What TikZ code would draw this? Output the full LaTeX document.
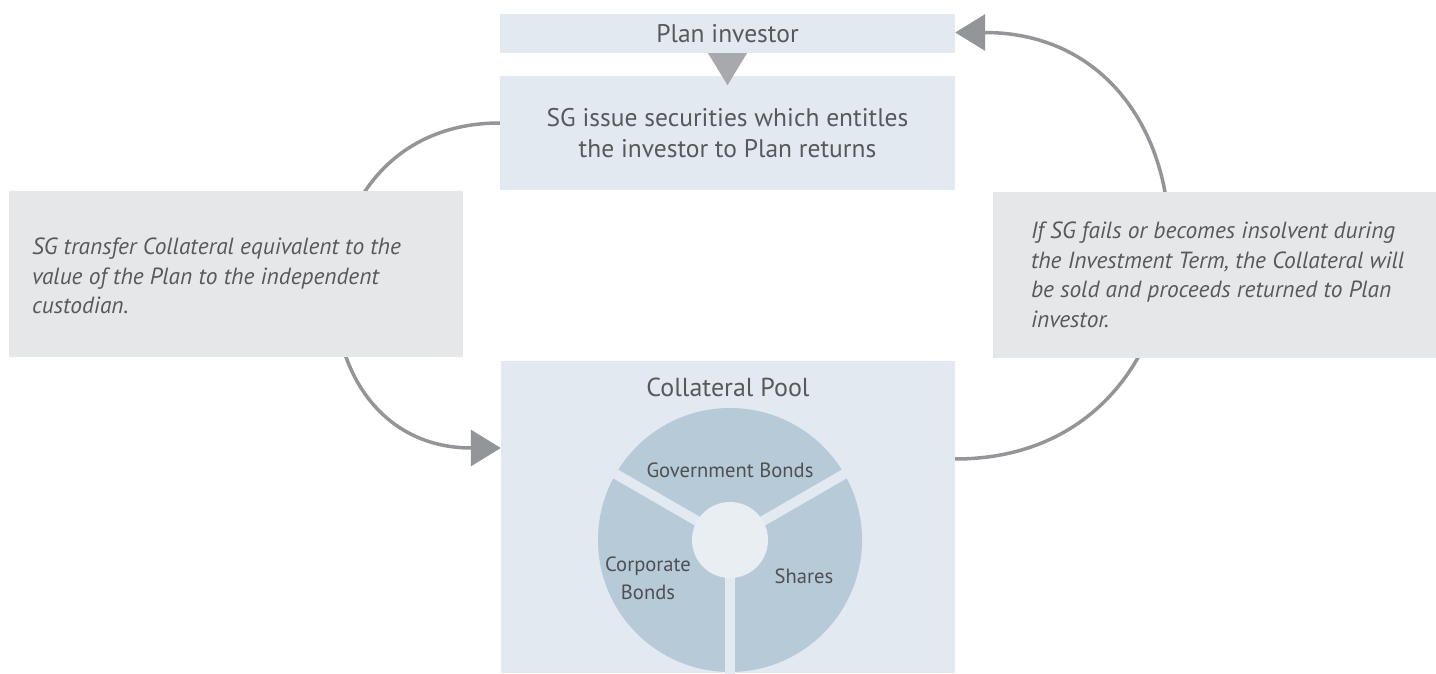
\documentclass[tikz,border=0pt]{standalone}
\usepackage{fontspec}
\setmainfont{PT Sans}
\usetikzlibrary{arrows.meta,backgrounds}
\definecolor{boxblue}{HTML}{E2E9F0}
\definecolor{notegray}{HTML}{E6E7E8}
\definecolor{piecol}{HTML}{B7CAD8}
\definecolor{hubcol}{HTML}{E9EEF3}
\definecolor{arrowgray}{HTML}{939598}
\definecolor{tipgray}{HTML}{A7A9AC}
\definecolor{textgray}{HTML}{58595B}
\begin{document}
\begin{tikzpicture}[x=1pt,y=1pt,
        bluebox/.style={fill=boxblue, inner sep=0pt, text=textgray, align=center,
            font=\fontsize{25.5}{31}\selectfont},
        notebox/.style={fill=notegray, inner sep=0pt, minimum height=166pt},
        notetext/.style={anchor=west, inner sep=0pt, text=textgray, align=left,
            font=\fontsize{23.4}{29.5}\selectfont\itshape},
        flow/.style={draw=arrowgray, line width=3.5pt, -{Triangle[length=30pt,width=36pt]}},
        slice/.style={text=textgray!90!black, align=center, font=\fontsize{20.6}{28}\selectfont}]
    \useasboundingbox (0,0) rectangle (1436,673);
    % investor and securities
    \node[bluebox, minimum width=455pt, minimum height=39pt] (plan) at (727.5,639.5) {Plan investor};
    \node[bluebox, minimum width=455pt, minimum height=114pt] (issue) at (727.5,540)
        {SG issue securities which entitles\\the investor to Plan returns};
    \fill[tipgray] ([xshift=-19.5pt]plan.south) -- ([xshift=19.5pt]plan.south) -- ([yshift=-32pt]plan.south) -- cycle;
    % notes
    \node[notebox, minimum width=454pt] (transfer) at (236,399) {};
    \node[notetext] (transfertext) at ([xshift=23pt,yshift=-2pt]transfer.west)
        {SG transfer Collateral equivalent to the\\value of the Plan to the independent\\custodian.};
    \node[notebox, minimum width=443pt] (fail) at (1214.5,398) {};
    \node[notetext] (failtext) at ([xshift=38pt,yshift=0pt]fail.west)
        {If SG fails or becomes insolvent during\\the Investment Term, the Collateral will\\be sold and proceeds returned to Plan\\investor.};
    % collateral pool
    \node[bluebox, minimum width=454pt, minimum height=312pt] (pool) at (728,156) {};
    \node[text=textgray, font=\fontsize{26}{30}\selectfont] (title) at (728,286) {Collateral Pool};
    \coordinate (hub) at (730,133);
    \fill[piecol] (hub) circle (132);
    \foreach \a in {30,150,270}
        \draw[boxblue, line width=10pt] (hub) -- ++(\a:136);
    \fill[hubcol] (hub) circle (38);
    \node[slice] (gov) at (730,203) {Government Bonds};
    \node[slice] (corp) at (648,95) {Corporate\\Bonds};
    \node[slice] (shares) at (804,97) {Shares};
    % flows
    \begin{scope}[on background layer]
        \draw[flow] ([yshift=10pt]issue.west) .. controls +(-215,0) and +(-215,0) .. ([yshift=69pt]pool.west);
        \draw[flow] ([yshift=58pt]pool.east) .. controls +(280,0) and +(280,0) .. ([yshift=1pt]plan.east);
    \end{scope}
\end{tikzpicture}
\end{document}
